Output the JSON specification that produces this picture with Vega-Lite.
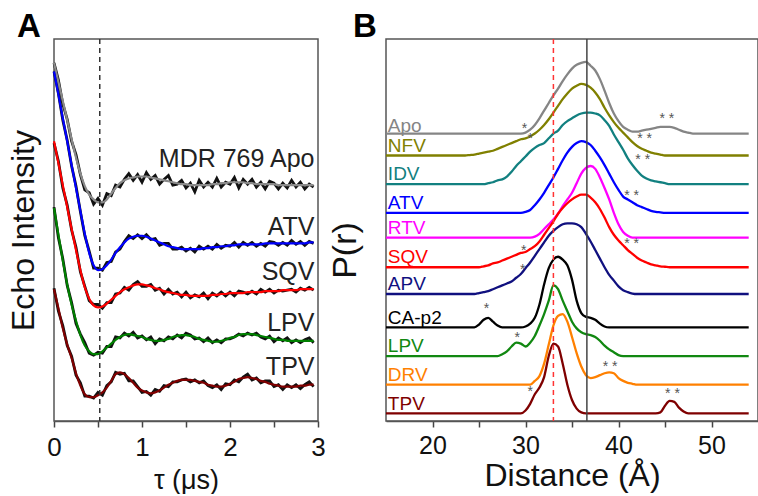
{
  "$schema": "https://vega.github.io/schema/vega-lite/v6.json",
  "padding": {"left": 6, "top": 10, "right": 0, "bottom": 0},
  "background": "white",
  "config": {
    "font": "Liberation Sans",
    "view": {"stroke": "#555", "strokeWidth": 1.5},
    "concat": {"spacing": 1},
    "axis": {"grid": false}
  },
  "resolve": {"scale": {"color": "independent"}},
  "datasets": {
    "echo": [
      {"t":0,"Apo":375,"ATV":366,"SQV":293,"LPV":223,"TPV":138,"rApo":375,"rATV":366,"rSQV":291,"rLPV":224,"rTPV":139},
      {"t":0.05,"Apo":355,"ATV":342,"SQV":270,"LPV":195,"TPV":118,"rApo":357,"rATV":343,"rSQV":272,"rLPV":192,"rTPV":115},
      {"t":0.1,"Apo":335,"ATV":317,"SQV":247,"LPV":168,"TPV":97,"rApo":332,"rATV":315,"rSQV":244,"rLPV":170,"rTPV":100},
      {"t":0.15,"Apo":315,"ATV":293,"SQV":224,"LPV":143,"TPV":80,"rApo":316,"rATV":294,"rSQV":226,"rLPV":142,"rTPV":79},
      {"t":0.2,"Apo":295,"ATV":268,"SQV":201,"LPV":122,"TPV":66,"rApo":293,"rATV":267,"rSQV":200,"rLPV":124,"rTPV":68},
      {"t":0.25,"Apo":276,"ATV":244,"SQV":179,"LPV":105,"TPV":50,"rApo":279,"rATV":246,"rSQV":182,"rLPV":102,"rTPV":48},
      {"t":0.3,"Apo":259,"ATV":220,"SQV":158,"LPV":90,"TPV":37,"rApo":258,"rATV":219,"rSQV":156,"rLPV":91,"rTPV":40},
      {"t":0.35,"Apo":246,"ATV":196,"SQV":140,"LPV":79,"TPV":28,"rApo":242,"rATV":194,"rSQV":141,"rLPV":82,"rTPV":26},
      {"t":0.4,"Apo":237,"ATV":176,"SQV":128,"LPV":73,"TPV":25,"rApo":239,"rATV":178,"rSQV":126,"rLPV":71,"rTPV":26},
      {"t":0.45,"Apo":232,"ATV":163,"SQV":121,"LPV":70,"TPV":25,"rApo":227,"rATV":160,"rSQV":122,"rLPV":69,"rTPV":24},
      {"t":0.5,"Apo":229,"ATV":158,"SQV":119,"LPV":70,"TPV":27,"rApo":233,"rATV":160,"rSQV":122,"rLPV":72,"rTPV":30},
      {"t":0.55,"Apo":229,"ATV":159,"SQV":120,"LPV":73,"TPV":30,"rApo":226,"rATV":158,"rSQV":118,"rLPV":71,"rTPV":27},
      {"t":0.6,"Apo":232,"ATV":163,"SQV":123,"LPV":77,"TPV":35,"rApo":238,"rATV":166,"rSQV":124,"rLPV":78,"rTPV":37},
      {"t":0.65,"Apo":238,"ATV":169,"SQV":127,"LPV":81,"TPV":42,"rApo":236,"rATV":167,"rSQV":124,"rLPV":78,"rTPV":41},
      {"t":0.7,"Apo":244,"ATV":176,"SQV":131,"LPV":85,"TPV":49,"rApo":247,"rATV":177,"rSQV":133,"rLPV":88,"rTPV":51},
      {"t":0.75,"Apo":249,"ATV":182,"SQV":135,"LPV":88,"TPV":51,"rApo":245,"rATV":180,"rSQV":134,"rLPV":87,"rTPV":49},
      {"t":0.8,"Apo":252,"ATV":187,"SQV":138,"LPV":90,"TPV":49,"rApo":253,"rATV":188,"rSQV":140,"rLPV":92,"rTPV":50},
      {"t":0.85,"Apo":254,"ATV":191,"SQV":140,"LPV":91,"TPV":45,"rApo":259,"rATV":194,"rSQV":137,"rLPV":89,"rTPV":42},
      {"t":0.9,"Apo":255,"ATV":193,"SQV":142,"LPV":90,"TPV":40,"rApo":252,"rATV":191,"rSQV":143,"rLPV":93,"rTPV":42},
      {"t":0.95,"Apo":256,"ATV":194,"SQV":143,"LPV":89,"TPV":35,"rApo":258,"rATV":195,"rSQV":146,"rLPV":87,"rTPV":36},
      {"t":1.0,"Apo":256,"ATV":194,"SQV":143,"LPV":88,"TPV":32,"rApo":250,"rATV":191,"rSQV":141,"rLPV":89,"rTPV":30},
      {"t":1.05,"Apo":256,"ATV":193,"SQV":142,"LPV":86,"TPV":30,"rApo":260,"rATV":195,"rSQV":141,"rLPV":85,"rTPV":31},
      {"t":1.1,"Apo":255,"ATV":191,"SQV":141,"LPV":85,"TPV":29,"rApo":253,"rATV":190,"rSQV":143,"rLPV":88,"rTPV":27},
      {"t":1.15,"Apo":254,"ATV":189,"SQV":139,"LPV":84,"TPV":30,"rApo":257,"rATV":191,"rSQV":137,"rLPV":81,"rTPV":33},
      {"t":1.2,"Apo":253,"ATV":187,"SQV":138,"LPV":84,"TPV":32,"rApo":248,"rATV":184,"rSQV":139,"rLPV":86,"rTPV":31},
      {"t":1.25,"Apo":252,"ATV":185,"SQV":136,"LPV":85,"TPV":35,"rApo":253,"rATV":186,"rSQV":133,"rLPV":84,"rTPV":37},
      {"t":1.3,"Apo":251,"ATV":183,"SQV":135,"LPV":86,"TPV":38,"rApo":257,"rATV":186,"rSQV":138,"rLPV":88,"rTPV":36},
      {"t":1.35,"Apo":250,"ATV":182,"SQV":134,"LPV":88,"TPV":40,"rApo":247,"rATV":180,"rSQV":133,"rLPV":86,"rTPV":41},
      {"t":1.4,"Apo":249,"ATV":181,"SQV":133,"LPV":89,"TPV":42,"rApo":248,"rATV":180,"rSQV":135,"rLPV":90,"rTPV":41},
      {"t":1.45,"Apo":248,"ATV":180,"SQV":132,"LPV":90,"TPV":43,"rApo":252,"rATV":182,"rSQV":130,"rLPV":87,"rTPV":43},
      {"t":1.5,"Apo":248,"ATV":180,"SQV":132,"LPV":90,"TPV":43,"rApo":244,"rATV":178,"rSQV":135,"rLPV":92,"rTPV":44},
      {"t":1.55,"Apo":247,"ATV":180,"SQV":131,"LPV":89,"TPV":43,"rApo":249,"rATV":181,"rSQV":129,"rLPV":90,"rTPV":41},
      {"t":1.6,"Apo":247,"ATV":180,"SQV":131,"LPV":88,"TPV":42,"rApo":240,"rATV":177,"rSQV":132,"rLPV":86,"rTPV":43},
      {"t":1.65,"Apo":247,"ATV":180,"SQV":131,"LPV":86,"TPV":41,"rApo":252,"rATV":183,"rSQV":130,"rLPV":87,"rTPV":40},
      {"t":1.7,"Apo":247,"ATV":181,"SQV":131,"LPV":85,"TPV":40,"rApo":245,"rATV":180,"rSQV":134,"rLPV":83,"rTPV":42},
      {"t":1.75,"Apo":247,"ATV":181,"SQV":131,"LPV":84,"TPV":38,"rApo":250,"rATV":183,"rSQV":128,"rLPV":87,"rTPV":37},
      {"t":1.8,"Apo":248,"ATV":182,"SQV":132,"LPV":83,"TPV":37,"rApo":245,"rATV":180,"rSQV":134,"rLPV":82,"rTPV":35},
      {"t":1.85,"Apo":248,"ATV":182,"SQV":132,"LPV":83,"TPV":36,"rApo":254,"rATV":185,"rSQV":131,"rLPV":85,"rTPV":38},
      {"t":1.9,"Apo":249,"ATV":183,"SQV":133,"LPV":84,"TPV":36,"rApo":245,"rATV":181,"rSQV":135,"rLPV":82,"rTPV":33},
      {"t":1.95,"Apo":249,"ATV":183,"SQV":133,"LPV":85,"TPV":37,"rApo":250,"rATV":184,"rSQV":131,"rLPV":86,"rTPV":39},
      {"t":2.0,"Apo":250,"ATV":184,"SQV":134,"LPV":87,"TPV":39,"rApo":248,"rATV":183,"rSQV":135,"rLPV":86,"rTPV":38},
      {"t":2.05,"Apo":250,"ATV":184,"SQV":134,"LPV":88,"TPV":41,"rApo":255,"rATV":187,"rSQV":131,"rLPV":88,"rTPV":43},
      {"t":2.1,"Apo":250,"ATV":185,"SQV":134,"LPV":90,"TPV":44,"rApo":244,"rATV":182,"rSQV":136,"rLPV":91,"rTPV":41},
      {"t":2.15,"Apo":250,"ATV":185,"SQV":134,"LPV":91,"TPV":45,"rApo":253,"rATV":187,"rSQV":135,"rLPV":89,"rTPV":46},
      {"t":2.2,"Apo":249,"ATV":185,"SQV":135,"LPV":91,"TPV":46,"rApo":248,"rATV":184,"rSQV":133,"rLPV":92,"rTPV":49},
      {"t":2.25,"Apo":249,"ATV":185,"SQV":135,"LPV":91,"TPV":45,"rApo":253,"rATV":187,"rSQV":136,"rLPV":90,"rTPV":43},
      {"t":2.3,"Apo":248,"ATV":185,"SQV":135,"LPV":90,"TPV":44,"rApo":245,"rATV":183,"rSQV":133,"rLPV":92,"rTPV":45},
      {"t":2.35,"Apo":248,"ATV":185,"SQV":135,"LPV":89,"TPV":42,"rApo":250,"rATV":186,"rSQV":138,"rLPV":88,"rTPV":40},
      {"t":2.4,"Apo":248,"ATV":186,"SQV":136,"LPV":88,"TPV":41,"rApo":243,"rATV":183,"rSQV":135,"rLPV":86,"rTPV":42},
      {"t":2.45,"Apo":248,"ATV":186,"SQV":136,"LPV":87,"TPV":39,"rApo":251,"rATV":188,"rSQV":138,"rLPV":89,"rTPV":42},
      {"t":2.5,"Apo":248,"ATV":186,"SQV":136,"LPV":86,"TPV":38,"rApo":249,"rATV":187,"rSQV":134,"rLPV":83,"rTPV":36},
      {"t":2.55,"Apo":247,"ATV":186,"SQV":136,"LPV":85,"TPV":37,"rApo":243,"rATV":184,"rSQV":137,"rLPV":87,"rTPV":38},
      {"t":2.6,"Apo":247,"ATV":186,"SQV":137,"LPV":85,"TPV":36,"rApo":249,"rATV":187,"rSQV":136,"rLPV":84,"rTPV":33},
      {"t":2.65,"Apo":247,"ATV":186,"SQV":137,"LPV":84,"TPV":36,"rApo":244,"rATV":184,"rSQV":137,"rLPV":87,"rTPV":38},
      {"t":2.7,"Apo":247,"ATV":186,"SQV":137,"LPV":84,"TPV":36,"rApo":252,"rATV":189,"rSQV":138,"rLPV":82,"rTPV":35},
      {"t":2.75,"Apo":247,"ATV":186,"SQV":137,"LPV":84,"TPV":36,"rApo":245,"rATV":185,"rSQV":135,"rLPV":85,"rTPV":38},
      {"t":2.8,"Apo":247,"ATV":186,"SQV":138,"LPV":84,"TPV":37,"rApo":250,"rATV":188,"rSQV":139,"rLPV":82,"rTPV":34},
      {"t":2.85,"Apo":247,"ATV":186,"SQV":138,"LPV":84,"TPV":37,"rApo":243,"rATV":184,"rSQV":137,"rLPV":85,"rTPV":38},
      {"t":2.9,"Apo":247,"ATV":187,"SQV":138,"LPV":84,"TPV":38,"rApo":248,"rATV":188,"rSQV":140,"rLPV":87,"rTPV":41},
      {"t":2.95,"Apo":247,"ATV":187,"SQV":138,"LPV":84,"TPV":38,"rApo":245,"rATV":186,"rSQV":137,"rLPV":82,"rTPV":36}
    ],
    "echoLabels": [
      {"lab":"MDR 769 Apo","v":266},
      {"lab":"ATV","v":195},
      {"lab":"SQV","v":148},
      {"lab":"LPV","v":94},
      {"lab":"TPV","v":48}
    ],
    "echoMark": [{"t":0.52}],
    "dist": [
      {"r":15,"Apo":301,"NFV":278,"IDV":248,"ATV":218,"RTV":192,"SQV":161,"APV":133,"CAp2":98,"LPV":68,"DRV":38,"TPV":8},
      {"r":23,"Apo":301,"NFV":278,"IDV":248,"ATV":218,"RTV":192,"SQV":161,"APV":133,"CAp2":98,"LPV":68,"DRV":38,"TPV":8},
      {"r":23.5,"Apo":301,"NFV":278,"IDV":248,"ATV":218,"RTV":192,"SQV":161,"APV":133,"CAp2":98,"LPV":68,"DRV":38,"TPV":8},
      {"r":24,"Apo":301,"NFV":278.5,"IDV":248,"ATV":218,"RTV":192,"SQV":161,"APV":133,"CAp2":98,"LPV":68,"DRV":38,"TPV":8},
      {"r":24.5,"Apo":301,"NFV":279,"IDV":248,"ATV":218,"RTV":192,"SQV":161,"APV":133,"CAp2":98,"LPV":68,"DRV":38,"TPV":8},
      {"r":25,"Apo":301,"NFV":280,"IDV":248,"ATV":218,"RTV":192,"SQV":161,"APV":134,"CAp2":101,"LPV":68,"DRV":38,"TPV":8},
      {"r":25.5,"Apo":301,"NFV":281,"IDV":248,"ATV":218,"RTV":192,"SQV":162,"APV":135,"CAp2":106,"LPV":68,"DRV":38,"TPV":8},
      {"r":26,"Apo":301,"NFV":282,"IDV":249,"ATV":218,"RTV":192,"SQV":163,"APV":136,"CAp2":108,"LPV":68,"DRV":38,"TPV":8},
      {"r":26.5,"Apo":301,"NFV":283,"IDV":250,"ATV":218,"RTV":192,"SQV":165,"APV":138,"CAp2":104,"LPV":68,"DRV":38,"TPV":8},
      {"r":27,"Apo":301,"NFV":285,"IDV":252,"ATV":218,"RTV":192,"SQV":166,"APV":140,"CAp2":100,"LPV":68,"DRV":38,"TPV":8},
      {"r":27.5,"Apo":301,"NFV":287,"IDV":253,"ATV":218,"RTV":192,"SQV":168,"APV":142,"CAp2":98,"LPV":70,"DRV":38,"TPV":8},
      {"r":28,"Apo":301,"NFV":289,"IDV":256,"ATV":218,"RTV":192,"SQV":170,"APV":144,"CAp2":98,"LPV":73,"DRV":38,"TPV":8},
      {"r":28.5,"Apo":301,"NFV":291,"IDV":261,"ATV":218,"RTV":192,"SQV":172,"APV":146,"CAp2":98,"LPV":78,"DRV":38,"TPV":8},
      {"r":29,"Apo":301,"NFV":293,"IDV":267,"ATV":218,"RTV":192,"SQV":174,"APV":150,"CAp2":98,"LPV":82,"DRV":38,"TPV":8},
      {"r":29.5,"Apo":301,"NFV":295,"IDV":272,"ATV":218,"RTV":192,"SQV":176,"APV":154,"CAp2":98,"LPV":81,"DRV":38,"TPV":8},
      {"r":30,"Apo":302,"NFV":296,"IDV":277,"ATV":219,"RTV":192,"SQV":177,"APV":160,"CAp2":99,"LPV":78,"DRV":38,"TPV":11},
      {"r":30.5,"Apo":305,"NFV":298,"IDV":282,"ATV":221,"RTV":192,"SQV":180,"APV":166,"CAp2":102,"LPV":82,"DRV":38,"TPV":18},
      {"r":31,"Apo":310,"NFV":301,"IDV":286,"ATV":226,"RTV":193,"SQV":183,"APV":173,"CAp2":108,"LPV":89,"DRV":42,"TPV":28},
      {"r":31.5,"Apo":317,"NFV":305,"IDV":289,"ATV":232,"RTV":196,"SQV":188,"APV":180,"CAp2":122,"LPV":100,"DRV":47,"TPV":35},
      {"r":32,"Apo":325,"NFV":310,"IDV":291,"ATV":239,"RTV":201,"SQV":195,"APV":187,"CAp2":143,"LPV":112,"DRV":60,"TPV":46},
      {"r":32.5,"Apo":333,"NFV":316,"IDV":296,"ATV":247,"RTV":206,"SQV":202,"APV":194,"CAp2":160,"LPV":126,"DRV":80,"TPV":68},
      {"r":33,"Apo":341,"NFV":323,"IDV":301,"ATV":255,"RTV":211,"SQV":209,"APV":199,"CAp2":169,"LPV":142,"DRV":100,"TPV":81},
      {"r":33.5,"Apo":348,"NFV":330,"IDV":304,"ATV":264,"RTV":217,"SQV":217,"APV":203,"CAp2":172,"LPV":138,"DRV":110,"TPV":78},
      {"r":34,"Apo":356,"NFV":337,"IDV":310,"ATV":273,"RTV":225,"SQV":223,"APV":206,"CAp2":169,"LPV":126,"DRV":112,"TPV":60},
      {"r":34.5,"Apo":363,"NFV":343,"IDV":314,"ATV":281,"RTV":232,"SQV":228,"APV":207,"CAp2":163,"LPV":115,"DRV":104,"TPV":38},
      {"r":35,"Apo":369,"NFV":348,"IDV":317,"ATV":287,"RTV":239,"SQV":232,"APV":207,"CAp2":148,"LPV":104,"DRV":88,"TPV":22},
      {"r":35.5,"Apo":373,"NFV":351,"IDV":320,"ATV":291,"RTV":249,"SQV":235,"APV":206,"CAp2":126,"LPV":97,"DRV":71,"TPV":13},
      {"r":36,"Apo":375,"NFV":353,"IDV":322,"ATV":293,"RTV":259,"SQV":237,"APV":203,"CAp2":113,"LPV":93,"DRV":57,"TPV":9},
      {"r":36.5,"Apo":376,"NFV":352,"IDV":323,"ATV":292,"RTV":265,"SQV":237,"APV":196,"CAp2":109,"LPV":91,"DRV":48,"TPV":8},
      {"r":37,"Apo":372,"NFV":349,"IDV":323,"ATV":289,"RTV":267,"SQV":234,"APV":188,"CAp2":108,"LPV":90,"DRV":45,"TPV":8},
      {"r":37.5,"Apo":367,"NFV":344,"IDV":322,"ATV":283,"RTV":264,"SQV":229,"APV":179,"CAp2":106,"LPV":88,"DRV":46,"TPV":8},
      {"r":38,"Apo":358,"NFV":337,"IDV":320,"ATV":276,"RTV":255,"SQV":222,"APV":170,"CAp2":102,"LPV":84,"DRV":48,"TPV":8},
      {"r":38.5,"Apo":346,"NFV":328,"IDV":315,"ATV":268,"RTV":244,"SQV":213,"APV":161,"CAp2":99,"LPV":79,"DRV":50,"TPV":8},
      {"r":39,"Apo":333,"NFV":320,"IDV":309,"ATV":259,"RTV":232,"SQV":203,"APV":153,"CAp2":98,"LPV":75,"DRV":51,"TPV":8},
      {"r":39.5,"Apo":322,"NFV":313,"IDV":300,"ATV":250,"RTV":218,"SQV":195,"APV":147,"CAp2":98,"LPV":72,"DRV":50,"TPV":8},
      {"r":40,"Apo":314,"NFV":307,"IDV":292,"ATV":242,"RTV":206,"SQV":189,"APV":141,"CAp2":98,"LPV":69,"DRV":45,"TPV":8},
      {"r":40.5,"Apo":308,"NFV":302,"IDV":284,"ATV":235,"RTV":198,"SQV":184,"APV":137,"CAp2":98,"LPV":68,"DRV":42,"TPV":8},
      {"r":41,"Apo":305,"NFV":297,"IDV":275,"ATV":232,"RTV":194,"SQV":179,"APV":135,"CAp2":98,"LPV":68,"DRV":40,"TPV":8},
      {"r":41.5,"Apo":303,"NFV":292,"IDV":268,"ATV":229,"RTV":192,"SQV":175,"APV":133.5,"CAp2":98,"LPV":68,"DRV":39,"TPV":8},
      {"r":42,"Apo":303,"NFV":288,"IDV":262,"ATV":226,"RTV":192,"SQV":171,"APV":133,"CAp2":98,"LPV":68,"DRV":38,"TPV":8},
      {"r":42.5,"Apo":304,"NFV":285,"IDV":257,"ATV":224,"RTV":192,"SQV":168,"APV":133,"CAp2":98,"LPV":68,"DRV":38,"TPV":8},
      {"r":43,"Apo":305,"NFV":283,"IDV":254,"ATV":222,"RTV":192,"SQV":166,"APV":133,"CAp2":98,"LPV":68,"DRV":38,"TPV":8},
      {"r":43.5,"Apo":306,"NFV":281,"IDV":252,"ATV":220,"RTV":192,"SQV":164,"APV":133,"CAp2":98,"LPV":68,"DRV":38,"TPV":8},
      {"r":44,"Apo":307,"NFV":280,"IDV":251,"ATV":219,"RTV":192,"SQV":163,"APV":133,"CAp2":98,"LPV":68,"DRV":38,"TPV":8},
      {"r":44.5,"Apo":308,"NFV":279,"IDV":250,"ATV":218.5,"RTV":192,"SQV":162,"APV":133,"CAp2":98,"LPV":68,"DRV":38,"TPV":9},
      {"r":45,"Apo":308,"NFV":278,"IDV":249,"ATV":218,"RTV":192,"SQV":161.5,"APV":133,"CAp2":98,"LPV":68,"DRV":38,"TPV":16},
      {"r":45.5,"Apo":308,"NFV":278,"IDV":248,"ATV":218,"RTV":192,"SQV":161,"APV":133,"CAp2":98,"LPV":68,"DRV":38,"TPV":21},
      {"r":46,"Apo":307,"NFV":278,"IDV":248,"ATV":218,"RTV":192,"SQV":161,"APV":133,"CAp2":98,"LPV":68,"DRV":38,"TPV":20},
      {"r":46.5,"Apo":305,"NFV":278,"IDV":248,"ATV":218,"RTV":192,"SQV":161,"APV":133,"CAp2":98,"LPV":68,"DRV":38,"TPV":14},
      {"r":47,"Apo":303,"NFV":278,"IDV":248,"ATV":218,"RTV":192,"SQV":161,"APV":133,"CAp2":98,"LPV":68,"DRV":38,"TPV":10},
      {"r":47.5,"Apo":302,"NFV":278,"IDV":248,"ATV":218,"RTV":192,"SQV":161,"APV":133,"CAp2":98,"LPV":68,"DRV":38,"TPV":8},
      {"r":48,"Apo":301,"NFV":278,"IDV":248,"ATV":218,"RTV":192,"SQV":161,"APV":133,"CAp2":98,"LPV":68,"DRV":38,"TPV":8},
      {"r":54,"Apo":301,"NFV":278,"IDV":248,"ATV":218,"RTV":192,"SQV":161,"APV":133,"CAp2":98,"LPV":68,"DRV":38,"TPV":8}
    ],
    "distLabels": [
      {"s":"Apo","lab":"Apo","v":303},
      {"s":"NFV","lab":"NFV","v":282},
      {"s":"IDV","lab":"IDV","v":252},
      {"s":"ATV","lab":"ATV","v":222},
      {"s":"RTV","lab":"RTV","v":196},
      {"s":"SQV","lab":"SQV","v":165},
      {"s":"APV","lab":"APV","v":137},
      {"s":"CAp2","lab":"CA-p2","v":102},
      {"s":"LPV","lab":"LPV","v":72},
      {"s":"DRV","lab":"DRV","v":42},
      {"s":"TPV","lab":"TPV","v":12}
    ],
    "stars": [
      {"r":29.9,"v":302,"t":"*"},
      {"r":45.2,"v":312,"t":"* *"},
      {"r":30.5,"v":291,"t":"*"},
      {"r":42.8,"v":291,"t":"* *"},
      {"r":42.6,"v":269,"t":"* *"},
      {"r":41.4,"v":231,"t":"* *"},
      {"r":41.4,"v":181,"t":"* *"},
      {"r":29.8,"v":174,"t":"*"},
      {"r":29.7,"v":154,"t":"*"},
      {"r":25.8,"v":113,"t":"*"},
      {"r":29.1,"v":83,"t":"*"},
      {"r":39.1,"v":52,"t":"* *"},
      {"r":30.5,"v":26,"t":"*"},
      {"r":45.8,"v":24,"t":"* *"}
    ],
    "distMarks": [
      {"r":33.0,"kind":"dashed"},
      {"r":36.6,"kind":"solid"}
    ]
  },
  "hconcat": [
    {
      "width": 264,
      "height": 382,
      "title": {"text": "A", "anchor": "start", "frame": "group", "fontSize": 33, "fontWeight": "bold", "color": "#000", "dx": -37, "offset": -6},
      "layer": [
        {
          "data": {"name": "echo"},
          "transform": [{"fold": ["rApo", "rATV", "rSQV", "rLPV", "rTPV"], "as": ["trace", "v"]}],
          "mark": {"type": "line", "color": "#111", "strokeWidth": 2.8},
          "encoding": {
            "x": {"field": "t", "type": "quantitative", "scale": {"domain": [0, 3]},
              "axis": {"title": "τ (μs)", "titleFontSize": 27, "titleFontWeight": "normal", "titleColor": "#111",
                "values": [0, 0.5, 1, 1.5, 2, 2.5, 3], "labelExpr": "datum.value % 1 === 0 ? format(datum.value, 'd') : ''",
                "labelFontSize": 26, "labelColor": "#111", "labelFlush": false, "labelPadding": 7, "tickSize": 6, "tickColor": "#444", "tickWidth": 1.5,
                "domainColor": "#555", "domainWidth": 1.5, "titlePadding": 7}},
            "y": {"field": "v", "type": "quantitative", "scale": {"domain": [0, 381]},
              "axis": {"title": "Echo Intensity", "titleFontSize": 32, "titleFontWeight": "normal", "titleColor": "#111",
                "labels": false, "ticks": false, "domain": false, "titlePadding": 14}},
            "detail": {"field": "trace", "type": "nominal"}
          }
        },
        {
          "data": {"name": "echo"},
          "transform": [{"fold": ["Apo", "ATV", "SQV", "LPV", "TPV"], "as": ["trace", "v"]}],
          "mark": {"type": "line", "strokeWidth": 2.2, "interpolate": "monotone"},
          "encoding": {
            "x": {"field": "t", "type": "quantitative"},
            "y": {"field": "v", "type": "quantitative"},
            "color": {"field": "trace", "type": "nominal", "legend": null,
              "scale": {"domain": ["Apo", "ATV", "SQV", "LPV", "TPV"], "range": ["#8a8a8a", "#0000ff", "#ff0000", "#008000", "#800000"]}}
          }
        },
        {
          "data": {"name": "echoMark"},
          "mark": {"type": "rule", "color": "#333", "strokeWidth": 1.5, "strokeDash": [5, 4]},
          "encoding": {"x": {"field": "t", "type": "quantitative"}}
        },
        {
          "data": {"name": "echoLabels"},
          "mark": {"type": "text", "align": "right", "baseline": "alphabetic", "fontSize": 25, "color": "#222"},
          "encoding": {
            "x": {"datum": 2.96},
            "y": {"field": "v", "type": "quantitative"},
            "text": {"field": "lab"}
          }
        }
      ]
    },
    {
      "width": 372,
      "height": 382,
      "title": {"text": "B", "anchor": "start", "frame": "group", "fontSize": 33, "fontWeight": "bold", "color": "#000", "dx": -33, "offset": -6},
      "layer": [
        {
          "data": {"name": "dist"},
          "transform": [{"fold": ["Apo", "NFV", "IDV", "ATV", "RTV", "SQV", "APV", "CAp2", "LPV", "DRV", "TPV"], "as": ["s", "v"]}],
          "mark": {"type": "line", "strokeWidth": 2.3, "interpolate": "monotone"},
          "encoding": {
            "x": {"field": "r", "type": "quantitative", "scale": {"domain": [15, 54]},
              "axis": {"title": "Distance (Å)", "titleFontSize": 32, "titleFontWeight": "normal", "titleColor": "#111",
                "values": [20, 25, 30, 35, 40, 45, 50], "labelExpr": "datum.value % 10 === 0 ? format(datum.value, 'd') : ''",
                "labelFontSize": 25, "labelColor": "#111", "labelFlush": false, "labelPadding": 6, "tickSize": 6, "tickColor": "#444", "tickWidth": 1.5,
                "domainColor": "#555", "domainWidth": 1.5, "titlePadding": 2}},
            "y": {"field": "v", "type": "quantitative", "scale": {"domain": [0, 383]},
              "axis": {"title": "P(r)", "titleFontSize": 34, "titleFontWeight": "normal", "titleColor": "#111",
                "labels": false, "ticks": false, "domain": false, "titlePadding": 24, "titleY": 211}},
            "color": {"field": "s", "type": "nominal", "legend": null,
              "scale": {"domain": ["Apo", "NFV", "IDV", "ATV", "RTV", "SQV", "APV", "CAp2", "LPV", "DRV", "TPV"],
                "range": ["#858585", "#808000", "#128080", "#0000ff", "#ff00ff", "#ff0000", "#10107f", "#000000", "#118811", "#ff8000", "#7f0000"]}}
          }
        },
        {
          "data": {"name": "distLabels"},
          "mark": {"type": "text", "align": "left", "baseline": "alphabetic", "fontSize": 19},
          "encoding": {
            "x": {"datum": 15.2},
            "y": {"field": "v", "type": "quantitative"},
            "text": {"field": "lab"},
            "color": {"field": "s", "type": "nominal", "legend": null}
          }
        },
        {
          "data": {"name": "stars"},
          "mark": {"type": "text", "align": "center", "baseline": "alphabetic", "fontSize": 14, "color": "#555"},
          "encoding": {
            "x": {"field": "r", "type": "quantitative"},
            "y": {"field": "v", "type": "quantitative"},
            "text": {"field": "t"}
          }
        },
        {
          "data": {"name": "distMarks"},
          "transform": [{"filter": "datum.kind === 'dashed'"}],
          "mark": {"type": "rule", "color": "#ff3333", "strokeWidth": 1.5, "strokeDash": [5, 4]},
          "encoding": {"x": {"field": "r", "type": "quantitative"}}
        },
        {
          "data": {"name": "distMarks"},
          "transform": [{"filter": "datum.kind === 'solid'"}],
          "mark": {"type": "rule", "color": "#444", "strokeWidth": 1.5},
          "encoding": {"x": {"field": "r", "type": "quantitative"}}
        }
      ]
    }
  ]
}
